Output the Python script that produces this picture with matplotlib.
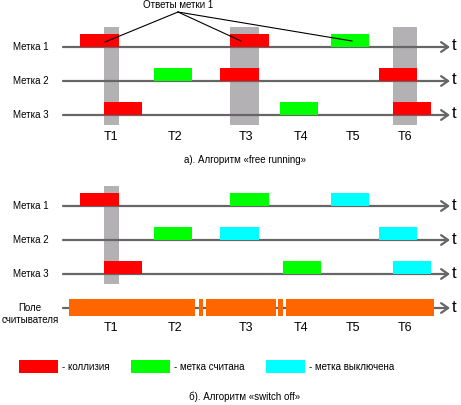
import matplotlib.pyplot as plt
from matplotlib.patches import Rectangle

plt.rcParams["font.family"] = ["Liberation Sans", "DejaVu Sans"]

# colours of the states
STATE_COLORS = {"collision": "#ff0000", "read": "#00ff00", "off": "#00ffff"}
LINE_COLOR = "#666666"
SLOT_COLOR = "#b3b1b3"
FIELD_COLOR = "#ff6600"

# time slot labels and their centres (pixel units of the drawing)
slot_labels = ["T1", "T2", "T3", "T4", "T5", "T6"]
slot_centers = [111, 175, 246, 301, 353, 405]

row_names = ["Метка 1", "Метка 2", "Метка 3"]

# a) free running: (start, end, state) per tag
free_rows = [
    [(80, 119, "collision"), (230, 269, "collision"), (331, 369, "read")],
    [(154, 192, "read"), (220, 259, "collision"), (379, 417, "collision")],
    [(104, 142, "collision"), (280, 318, "read"), (393, 431, "collision")],
]
free_slots = [(104, 119), (230, 259), (393, 417)]
answer_targets = [(105, 42), (241, 41), (352, 41)]

# b) switch off
switch_rows = [
    [(80, 119, "collision"), (230, 269, "read"), (331, 369, "off")],
    [(154, 192, "read"), (220, 259, "off"), (379, 417, "off")],
    [(104, 142, "collision"), (283, 321, "read"), (393, 431, "off")],
]
switch_slots = [(104, 119)]
field_segments = [(69, 195), (199, 203), (206, 276), (278, 283), (286, 434)]

legend_items = [("collision", "- коллизия"), ("read", "- метка считана"), ("off", "- метка выключена")]
legend_x = [19, 131, 266]


def draw_axis_line(ax, y):
    ax.annotate("", xy=(450, y), xytext=(63, y),
                arrowprops=dict(arrowstyle="->,head_length=0.5,head_width=0.35",
                                color=LINE_COLOR, lw=1.6, shrinkA=0, shrinkB=0),
                zorder=2)
    ax.text(452, y - 1, "t", fontsize=12, va="center", ha="left")


def draw_panel(ax, line_ys, rows, slots, slot_top, slot_bottom, label_y):
    for x0, x1 in slots:
        ax.add_patch(Rectangle((x0, slot_top), x1 - x0, slot_bottom - slot_top,
                               color=SLOT_COLOR, lw=0, zorder=1))
    for name, y, row in zip(row_names, line_ys, rows):
        ax.text(13, y, name, fontsize=7, va="center", ha="left")
        draw_axis_line(ax, y)
        for x0, x1, state in row:
            ax.add_patch(Rectangle((x0, y - 13), x1 - x0, 13,
                                   color=STATE_COLORS[state], lw=0, zorder=3))
    for lab, xc in zip(slot_labels, slot_centers):
        ax.text(xc, label_y, lab, fontsize=9, ha="center", va="center")


fig = plt.figure(figsize=(4.61, 4.05), dpi=100)
ax = fig.add_axes([0, 0, 1, 1])
ax.set_xlim(0, 461)
ax.set_ylim(405, 0)
ax.axis("off")

# a) free running
draw_panel(ax, [47, 81, 115], free_rows, free_slots, 27, 125, 137)
apex = (178, 12)
for tx, ty in answer_targets:
    ax.plot([apex[0], tx], [apex[1], ty], color="black", lw=0.8, zorder=4)
ax.text(178, 5, "Ответы метки 1", fontsize=7, ha="center", va="center")
ax.text(245, 160, "а). Алгоритм «free running»", fontsize=7, ha="center", va="center")

# b) switch off
draw_panel(ax, [206, 240, 274], switch_rows, switch_slots, 186, 284, 328)
draw_axis_line(ax, 308)
for x0, x1 in field_segments:
    ax.add_patch(Rectangle((x0, 299), x1 - x0, 17, color=FIELD_COLOR, lw=0, zorder=3))
ax.text(30, 314, "Поле\nсчитывателя", fontsize=7, ha="center", va="center", linespacing=1.3)

for (state, text), lx in zip(legend_items, legend_x):
    ax.add_patch(Rectangle((lx, 360), 39, 13, color=STATE_COLORS[state], lw=0))
    ax.text(lx + 43, 366.5, text, fontsize=7, ha="left", va="center")
ax.text(245, 397, "б). Алгоритм «switch off»", fontsize=7, ha="center", va="center")

fig.savefig("out.png", dpi=100)
